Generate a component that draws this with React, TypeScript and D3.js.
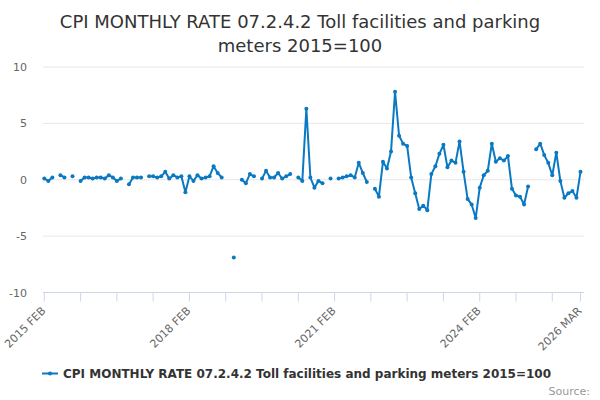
import React from 'react';
import * as d3 from 'd3';

// Monthly rate, Feb 2015 .. Mar 2026 (null = no value published)
const values: (number | null)[] = [
  0.1, -0.1, 0.2, null, 0.4, 0.2, null, 0.3, null, -0.1, 0.2,
  0.2, 0.1, 0.2, 0.2, 0.1, 0.4, 0.2, -0.1, 0.1, null, -0.4, 0.2, 0.2,
  0.2, null, 0.3, 0.3, 0.2, 0.3, 0.7, 0.1, 0.4, 0.2, 0.3, -1.1,
  0.3, -0.1, 0.4, 0.1, 0.2, 0.3, 1.2, 0.6, 0.2, null, null, -6.9,
  null, 0.0, -0.3, 0.5, 0.3, null, 0.1, 0.8, 0.2, 0.2, 0.6, 0.1,
  0.3, 0.5, null, 0.2, -0.1, 6.3, 0.2, -0.7, -0.1, -0.3, null, 0.1,
  null, 0.1, 0.2, 0.3, 0.4, 0.2, 1.5, 0.6, -0.2, null, -0.8, -1.5,
  1.6, 1.0, 2.5, 7.8, 3.9, 3.2, 3.0, 0.2, -1.2, -2.6, -2.3, -2.7,
  0.5, 1.2, 2.3, 3.1, 1.1, 1.7, 1.5, 3.4, 0.7, -1.7, -2.2, -3.4,
  -0.7, 0.4, 0.8, 3.2, 1.6, 1.9, 1.7, 2.1, -0.8, -1.4, -1.5, -2.2,
  -0.6, null, 2.7, 3.2, 2.2, 1.5, 0.4, 2.4, -0.1, -1.6, -1.2, -1.0,
  -1.6, 0.7,
];

const monthNames = ['JAN', 'FEB', 'MAR', 'APR', 'MAY', 'JUN', 'JUL', 'AUG', 'SEP', 'OCT', 'NOV', 'DEC'];
const startYear = 2015;
const startMonth = 1; // FEB
const categories = values.map((_, i) => {
  const m = startMonth + i;
  return `${startYear + Math.floor(m / 12)} ${monthNames[m % 12]}`;
});

const yTicks = [10, 5, 0, -5, -10];
const labelledCategories = ['2015 FEB', '2018 FEB', '2021 FEB', '2024 FEB', '2026 MAR'];
const tickStep = 9;

const title = ['CPI MONTHLY RATE 07.2.4.2 Toll facilities and parking', 'meters 2015=100'];
const seriesName = 'CPI MONTHLY RATE 07.2.4.2 Toll facilities and parking meters 2015=100';

const COLOR = '#0a79c2';
const FONT = '"DejaVu Sans", Verdana, sans-serif';

export default function App() {
  const width = 600;
  const height = 400;
  const plot = { left: 43, right: 584, top: 67, bottom: 292.5 };

  const x = d3.scaleLinear().domain([0, values.length - 1]).range([44.3, 580.5]);
  const y = d3.scaleLinear().domain([-10, 10]).range([plot.bottom, plot.top]);

  const line = d3
    .line<number | null>()
    .defined((d) => d !== null)
    .x((_, i) => x(i))
    .y((d) => y(d as number));

  const tickIdx = d3.range(0, values.length, tickStep).concat([values.length - 1]);
  const labelIdx = labelledCategories.map((c) => categories.indexOf(c));

  return (
    <svg
      width={width}
      height={height}
      style={{ position: 'absolute', left: 0, top: 0, fontFamily: FONT }}
    >
      <rect width={width} height={height} fill="#fff" />

      {title.map((t, i) => (
        <text key={i} x={300} y={28 + i * 24} textAnchor="middle" fontSize={18} fill="#333">
          {t}
        </text>
      ))}

      {/* grid */}
      {yTicks.map((t) => (
        <g key={t}>
          {t !== -10 && (
            <line x1={plot.left} x2={plot.right} y1={y(t)} y2={y(t)} stroke="#e6e6e6" strokeWidth={1} />
          )}
          <text x={27} y={y(t) + 4} textAnchor="end" fontSize={11} fill="#666">
            {t}
          </text>
        </g>
      ))}

      {/* x axis */}
      <line x1={plot.left} x2={plot.right} y1={plot.bottom} y2={plot.bottom} stroke="#ccd6eb" strokeWidth={1} />
      {tickIdx.map((i) => (
        <line key={i} x1={x(i)} x2={x(i)} y1={plot.bottom} y2={plot.bottom + 9} stroke="#ccd6eb" strokeWidth={1} />
      ))}
      {labelIdx.map((i) => (
        <text
          key={i}
          transform={`translate(${x(i) + 2},${plot.bottom + 19}) rotate(-45)`}
          textAnchor="end"
          fontSize={11}
          fill="#666"
        >
          {categories[i]}
        </text>
      ))}

      {/* series */}
      <path d={line(values) ?? ''} fill="none" stroke={COLOR} strokeWidth={2} strokeLinejoin="round" />
      {values.map((v, i) =>
        v === null ? null : <circle key={i} cx={x(i)} cy={y(v)} r={2} fill={COLOR} />
      )}

      {/* legend */}
      <line x1={42} x2={58} y1={373.5} y2={373.5} stroke={COLOR} strokeWidth={2} />
      <circle cx={50} cy={373.5} r={2} fill={COLOR} />
      <text x={63} y={378} fontSize={12} fontWeight="bold" fill="#333">
        {seriesName}
      </text>

      <text x={590} y={395} textAnchor="end" fontSize={11} fill="#999">
        Source:
      </text>
    </svg>
  );
}
